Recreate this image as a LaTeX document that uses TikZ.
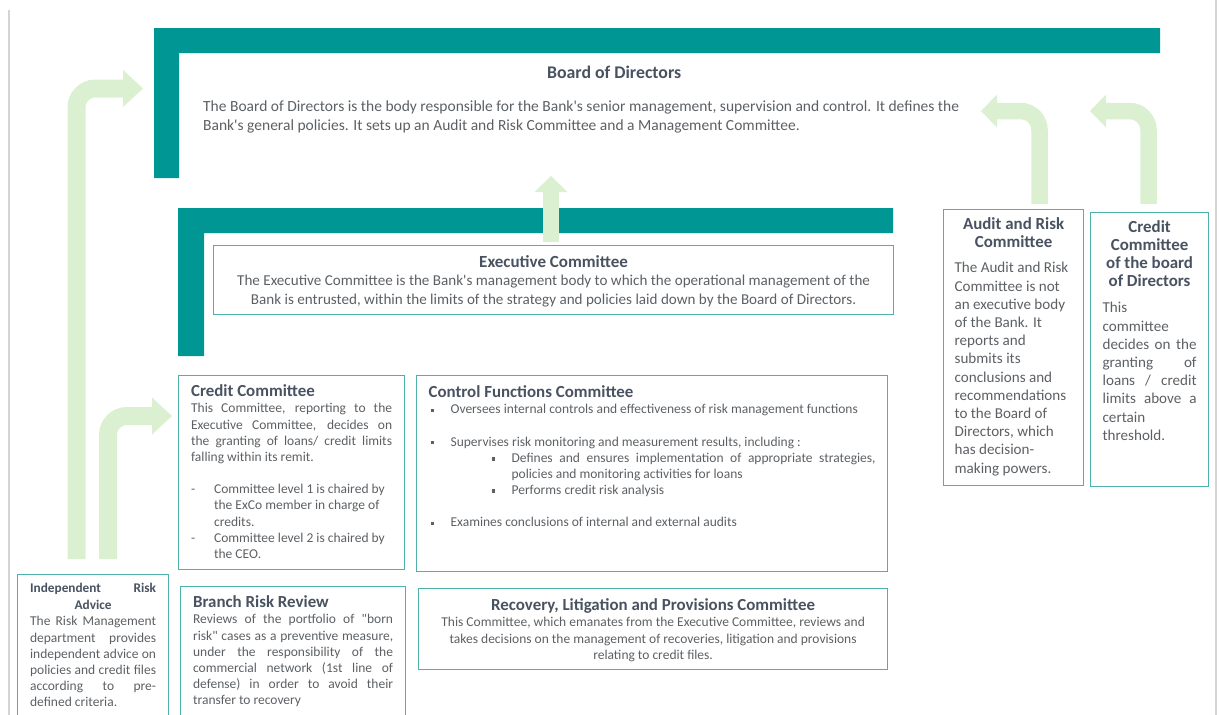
\documentclass[tikz,border=0pt]{standalone}
\usepackage{fontspec}
\setmainfont{Carlito}[Ligatures=TeXOff]
\usetikzlibrary{arrows.meta}

\definecolor{barteal}{RGB}{0,150,148}
\definecolor{boxteal}{RGB}{78,178,172}
\definecolor{arrowgreen}{RGB}{218,240,209}
\definecolor{titlegray}{RGB}{72,82,96}
\definecolor{bodygray}{RGB}{92,96,100}
\definecolor{framegray}{RGB}{212,212,212}

\newcommand\titlefs[1][16.9]{\fontsize{#1}{18}\selectfont\bfseries\color{titlegray}}
\newcommand\bodyfs{\fontsize{15.1}{18.2}\selectfont}
\newcommand\smallfs{\fontsize{13.5}{16.2}\selectfont}
\newcommand\sqbul{\rule[0.25ex]{3.5pt}{3.5pt}}

\begin{document}
\begin{tikzpicture}[x=1pt, y=-1pt,
    orgbox/.style={draw=boxteal, line width=1.2pt, inner xsep=12pt, inner ysep=0pt,
                   anchor=north west, text=bodygray},
    plain/.style={inner sep=0pt, anchor=north west, text=bodygray},
    bigarrow/.style={draw=arrowgreen, line width=18pt, rounded corners=19pt,
                     -{Triangle[length=20pt,width=37pt,line width=0pt]}},
    smallarrow/.style={draw=arrowgreen, line width=16.5pt, rounded corners=19pt,
                       -{Triangle[length=16pt,width=33pt,line width=0pt]}}]
    \clip (0,0) rectangle (1219,715);
    % page frame
    \draw[framegray, line width=1.2pt] (9,10) -- (9,715) (1216,0) -- (1216,715);

    % teal brackets
    \fill[barteal] (154,28) -- (1160,28) -- (1160,53) -- (179,53) -- (179,178) -- (154,178) -- cycle;
    \fill[barteal] (178,208) -- (893,208) -- (893,233) -- (204,233) -- (204,356) -- (178,356) -- cycle;

    % Board of Directors
    \node[plain] (board) at (203,55) {\parbox[t]{822pt}{%
        {\centering\rule{0pt}{23pt}{\titlefs[17.8]Board of Directors}\par}
        \vspace{14pt}
        {\raggedright\fontsize{15.5}{19}\selectfont The Board of Directors is the body responsible for the Bank's senior management, supervision and control. It defines the\\
        Bank's general policies. It sets up an Audit and Risk Committee and a Management Committee.\par}}};

    % Executive Committee
    \node[orgbox] (exco) at (213,245) {\parbox[t][69pt][t]{656pt}{\centering
        \rule{0pt}{22pt}{\titlefs[17]Executive Committee}\\
        \bodyfs The Executive Committee is the Bank's management body to which the operational management of the\\
        Bank is entrusted, within the limits of the strategy and policies laid down by the Board of Directors.}};

    % board committees
    \node[orgbox, inner xsep=11pt] (audit) at (943,209) {\parbox[t][276pt][t]{118pt}{%
        {\centering\titlefs\rule{0pt}{20pt}Audit and Risk\\Committee\par}
        \vspace{7pt}
        {\raggedright\bodyfs The Audit and Risk\\Committee is not\\an executive body\\of the Bank. It\\reports and\\submits its\\conclusions and\\recommendations\\to the Board of\\Directors, which\\has decision-\\making powers.\par}}};
    \node[orgbox] (cboard) at (1090,212) {\parbox[t][274pt][t]{94pt}{%
        {\centering\titlefs\rule{0pt}{20pt}Credit\\Committee\\of the board\\of Directors\par}
        \vspace{8pt}
        {\bodyfs This\linebreak committee\linebreak decides on the\linebreak granting of\linebreak loans / credit\linebreak limits above a\linebreak certain\linebreak threshold.\par}}};

    % executive committees
    \node[orgbox, inner xsep=12.5pt] (credit) at (178,375) {\parbox[t][194pt][t]{201pt}{%
        \rule{0pt}{21pt}{\titlefs Credit Committee}\par
        {\smallfs This Committee, reporting to the\linebreak Executive Committee, decides on\linebreak the granting of loans/ credit limits\linebreak falling within its remit.\par
        \vspace{16pt}
        \makebox[23pt][l]{-}Committee level 1 is chaired by\\
        \hspace*{23pt}the ExCo member in charge of\\
        \hspace*{23pt}credits.\\
        \makebox[23pt][l]{-}Committee level 2 is chaired by\\
        \hspace*{23pt}the CEO.\par}}};
    \node[orgbox] (control) at (416,375) {\parbox[t][196pt][t]{447pt}{%
        \rule{0pt}{22pt}{\titlefs Control Functions Committee}\par
        {\smallfs
        \makebox[22pt][l]{\hspace{2pt}\sqbul}Oversees internal controls and effectiveness of risk management functions\par
        \vspace{16pt}
        \makebox[22pt][l]{\hspace{2pt}\sqbul}Supervises risk monitoring and measurement results, including :\par
        \hangindent=83pt\hspace*{63pt}\makebox[20pt][l]{\sqbul}Defines and ensures implementation of appropriate strategies,\linebreak policies and monitoring activities for loans\par
        \hspace*{63pt}\makebox[20pt][l]{\sqbul}Performs credit risk analysis\par
        \vspace{16pt}
        \makebox[22pt][l]{\hspace{2pt}\sqbul}Examines conclusions of internal and external audits\par}}};
    \node[orgbox] (recovery) at (418,588) {\parbox[t][81pt][t]{445pt}{\centering
        \rule{0pt}{22pt}{\titlefs Recovery, Litigation and Provisions Committee}\\
        \smallfs This Committee, which emanates from the Executive Committee, reviews and\\
        takes decisions on the management of recoveries, litigation and provisions\\
        relating to credit files.}};
    \node[orgbox, inner xsep=12.5pt] (branch) at (180,586) {\parbox[t][160pt][t]{200pt}{%
        \rule{0pt}{21pt}{\titlefs Branch Risk Review}\par
        {\smallfs Reviews of the portfolio of "born\linebreak risk" cases as a preventive measure,\linebreak under the responsibility of the\linebreak commercial network (1st line of\linebreak defense) in order to avoid their\linebreak transfer to recovery\par}}};
    \node[orgbox, inner xsep=12.5pt] (risk) at (17,574) {\parbox[t][170pt][t]{126pt}{%
        {\titlefs[13.3]\baselineskip=17pt\rule{0pt}{18pt}Independent\hfill Risk\\\hspace*{\fill}Advice\hspace*{\fill}\par}
        {\smallfs The Risk Management\linebreak department provides\linebreak independent advice on\linebreak policies and credit files\linebreak according to pre-\linebreak defined criteria.\par}}};

    % reporting arrows
    \coordinate (risk-up) at (76.5,559);
    \coordinate (board-in) at (143,88.5);
    \coordinate (risk-up2) at (108,559);
    \coordinate (credit-in) at (172,416);
    \coordinate (exco-up) at (551,242);
    \coordinate (board-low) at (551,176);
    \coordinate (audit-up) at (1039.5,204);
    \coordinate (board-r1) at (981,111);
    \coordinate (cboard-up) at (1148.5,204);
    \coordinate (board-r2) at (1090,111);
    \draw[bigarrow] (risk-up) |- (board-in);
    \draw[bigarrow] (risk-up2) |- (credit-in);
    \draw[smallarrow] (exco-up) -- (board-low);
    \draw[smallarrow] (audit-up) |- (board-r1);
    \draw[smallarrow] (cboard-up) |- (board-r2);
\end{tikzpicture}
\end{document}
